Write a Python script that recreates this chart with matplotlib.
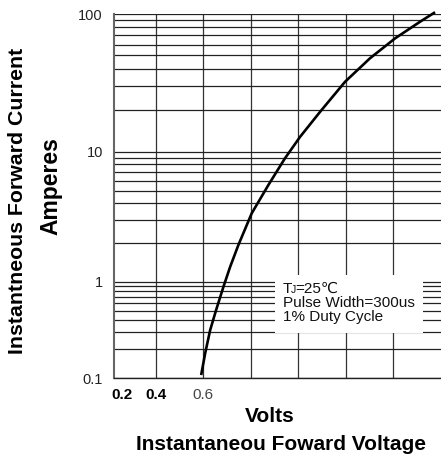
import numpy as np
import matplotlib
matplotlib.use("Agg")
import matplotlib.pyplot as plt
from matplotlib.ticker import FixedLocator, NullFormatter
from matplotlib.patches import Rectangle

plt.rcParams['font.family'] = ['Liberation Sans', 'DejaVu Sans']

# forward characteristic
voltage = [0.591, 0.608, 0.629, 0.654, 0.685, 0.713, 0.748, 0.804, 0.874,
           0.944, 1.008, 1.092, 1.197, 1.302, 1.408, 1.513, 1.576]
current = [0.108, 0.182, 0.316, 0.509, 0.888, 1.30, 1.92, 3.36, 5.54,
           8.90, 12.85, 19.5, 32.2, 47.7, 66.6, 87.9, 103.0]

y_major = [0.1, 1, 10, 100]
y_major_labels = ["0.1", "1", "10", "100"]
x_grid = [0.4, 0.6, 0.8, 1.0, 1.2, 1.4]
x_ticks = [0.257, 0.4, 0.6]
x_tick_labels = ["0.2", "0.4", "0.6"]

# the printed decades are not of equal height
dec_log = [-1, 0, 1, 2]
dec_pos = [0.0, 96.6, 226.6, 364.3]

def fwd(y):
    y = np.asarray(y, dtype=float)
    lg = np.log10(np.clip(y, 1e-9, None))
    out = np.interp(lg, dec_log, dec_pos)
    # let the top decade run a little past 100
    return np.where(lg > 2, dec_pos[-1] + (lg - 2) * 137.7, out)

def inv(p):
    p = np.asarray(p, dtype=float)
    out = 10 ** np.interp(p, dec_pos, dec_log)
    return np.where(p > dec_pos[-1], 10 ** (2 + (p - dec_pos[-1]) / 137.7), out)

fig = plt.figure(figsize=(4.41, 4.57), dpi=100)
ax = fig.add_axes([114/441, 1-378.3/457, 1-114/441, 364.3/457])
ax.set_yscale('function', functions=(fwd, inv))
ax.set_xlim(0.224, 1.601)
ax.set_ylim(0.1, 100)

minor = [m*d for d in [0.1, 1, 10] for m in range(2, 10)]
ax.yaxis.set_major_locator(FixedLocator(y_major))
ax.yaxis.set_minor_locator(FixedLocator(minor))
ax.yaxis.set_minor_formatter(NullFormatter())
ax.set_yticklabels(y_major_labels, fontsize=10.5, color='#222')

ax.xaxis.set_major_locator(FixedLocator(x_ticks))
ax.set_xticklabels(x_tick_labels, fontsize=11)
for lab in ax.get_xticklabels():
    if lab.get_text() in ("0.2", "0.4"):
        lab.set_fontweight('bold')
    else:
        lab.set_color('#444')
ax.tick_params(axis='both', which='both', length=0)
ax.tick_params(axis='x', pad=7)
ax.tick_params(axis='y', pad=8)

for v in x_grid:
    ax.axvline(v, color='#333', lw=0.9, zorder=1)
for yv in y_major + minor:
    ax.axhline(yv, color='#222', lw=0.9, zorder=1)

ax.spines['top'].set_visible(False)
ax.spines['right'].set_visible(False)
ax.spines['left'].set_color('#666')
ax.spines['left'].set_linewidth(1.5)
ax.spines['bottom'].set_color('#222')
ax.spines['bottom'].set_linewidth(1.0)

ax.plot(voltage, current, color='black', lw=1.9, zorder=3, solid_capstyle='butt',
        solid_joinstyle='round', clip_on=False)

# white panel behind the test conditions
ax.add_patch(Rectangle((0.492, 0.124), 0.453, 0.16, transform=ax.transAxes,
                       facecolor='white', edgecolor='none', zorder=2))
tk = dict(transform=ax.transAxes, va='baseline', ha='left', zorder=4, color='#111')
ax.text(0.517, 0.234, "T", fontsize=11, **tk)
ax.text(0.541, 0.234, "J", fontsize=7.5, **tk)
ax.text(0.554, 0.234, "=25\u2103", fontsize=11, **tk)
ax.text(0.517, 0.196, "Pulse Width=300us", fontsize=11, **tk)
ax.text(0.517, 0.157, "1% Duty Cycle", fontsize=11, **tk)

fig.text(270/441, 1-416.7/457, "Volts", fontsize=15, fontweight='bold', ha='center', va='center')
fig.text(281/441, 1-445/457, "Instantaneou Foward Voltage", fontsize=15, fontweight='bold', ha='center', va='center')
fig.text(17.5/441, 1-201/457, "Instantneous Forward Current", fontsize=15.3, fontweight='bold',
         ha='center', va='center', rotation=90)
fig.text(51/441, 1-186/457, "Amperes", fontsize=16.5, fontweight='bold', ha='center', va='center', rotation=90)

fig.savefig("out.png", dpi=100)
